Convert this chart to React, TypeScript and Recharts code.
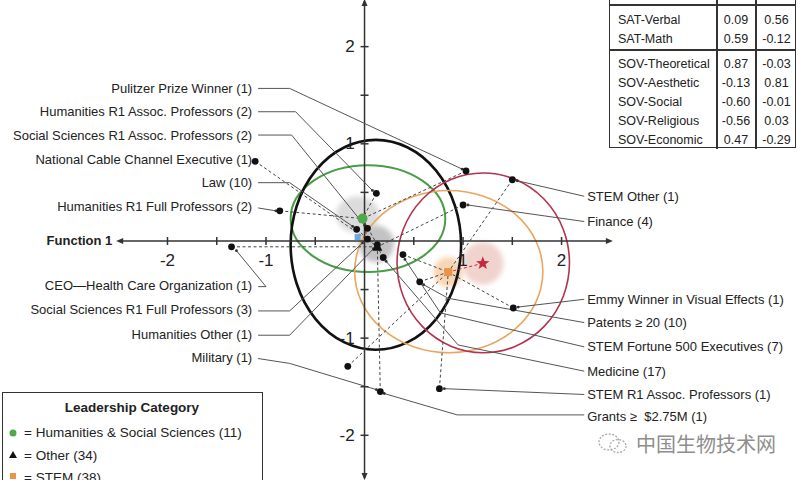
import React from "react";
import {
  ScatterChart,
  Scatter,
  XAxis,
  YAxis,
  ReferenceLine,
  ReferenceArea,
} from "recharts";

const FONT = "'Liberation Sans', Arial, Helvetica, sans-serif";

// visible window of the discriminant function space
const X_DOMAIN = [-3.7, 4.42];
const Y_DOMAIN = [-2.46, 2.48];

// leadership groups and their centroids
const groupNames = ["Humanities & Social Sciences", "Other", "STEM", "Star group", "Square group"];
const groupF1 = [-0.02, 0.13, 0.85, 1.2, -0.07];
const groupF2 = [0.23, -0.06, -0.32, -0.23, 0.04];

// confidence ellipses (function 1 / function 2 extents)
const ellipseGroups = ["Humanities & Social Sciences", "Other", "STEM", "Star group"];
const ellipseF1Min = [-0.75, -0.75, -0.1, 0.33];
const ellipseF1Max = [0.82, 0.98, 1.81, 2.08];
const ellipseF2Min = [-0.32, -1.12, -1.15, -1.15];
const ellipseF2Max = [0.78, 1.04, 0.52, 0.7];

// shaded spread around the centroids
const spreadF1Min = [-0.29, -0.06, 0.7, 0.99];
const spreadF1Max = [0.15, 0.3, 1.0, 1.41];
const spreadF2Min = [0.08, -0.22, -0.475, -0.45];
const spreadF2Max = [0.46, 0.16, -0.165, -0.01];

// careers (black dots)
const careers = [
  "Pulitzer Prize Winner (1)",
  "Humanities R1 Assoc. Professors (2)",
  "Social Sciences R1 Assoc. Professors (2)",
  "National Cable Channel Executive (1)",
  "Law (10)",
  "Humanities R1 Full Professors (2)",
  "CEO\u2014Health Care Organization (1)",
  "Social Sciences R1 Full Professors (3)",
  "Humanities Other (1)",
  "Military (1)",
  "STEM Other (1)",
  "Finance (4)",
  "Emmy Winner in Visual Effects (1)",
  "Patents \u2265 20 (10)",
  "STEM Fortune 500 Executives (7)",
  "Medicine (17)",
  "STEM R1 Assoc. Professors (1)",
  "Grants \u2265\u00a0 $2.75M (1)",
];
const careerF1 = [1.03, 0.12, 0.03, -1.11, -0.08, -0.86, -1.35, 0.03, 0.13, 0.16, 1.5, 1.0, 1.51, 0.56, 0.39, 0.19, 0.76, -0.17];
const careerF2 = [0.72, 0.49, 0.13, 0.82, 0.12, 0.31, -0.06, 0.02, -0.04, -1.55, 0.63, 0.37, -0.69, -0.42, -0.14, -0.17, -1.52, -1.29];
const careerGroup = [0, 0, 0, 1, 1, 0, 1, 0, 0, 1, 2, 1, 2, 2, 2, 1, 2, 2];

// label placement (first 10 on the left, the rest on the right)
const leftLabelX = -1.14;
const rightLabelX = 2.26;
const labelRows = [1.57, 1.33, 1.09, 0.84, 0.6, 0.35, -0.46, -0.71, -0.96, -1.2, 0.46, 0.2, -0.6, -0.84, -1.09, -1.34, -1.58, -1.81];

// leader lines from label to dot
const leaders: number[][][] = [
  [[-1.08, 1.57], [-0.76, 1.57], [0.99, 0.74]],
  [[-1.08, 1.33], [-0.7, 1.33], [0.08, 0.52]],
  [[-1.08, 1.09], [-0.74, 1.09], [0.0, 0.16]],
  [],
  [[-1.08, 0.6], [-0.76, 0.6], [-0.12, 0.15]],
  [[-1.08, 0.34], [-0.9, 0.31]],
  [[-1.08, -0.47], [-1.0, -0.47], [-1.3, -0.1]],
  [[-1.08, -0.72], [-0.76, -0.72], [-0.02, -0.02]],
  [[-1.08, -0.97], [-0.76, -0.97], [0.09, -0.08]],
  [[-1.08, -1.21], [-0.76, -1.26], [0.12, -1.53]],
  [[2.23, 0.46], [1.55, 0.62]],
  [[2.23, 0.2], [1.05, 0.37]],
  [[2.23, -0.6], [1.56, -0.68]],
  [[2.23, -0.84], [0.85, -0.59], [0.6, -0.45]],
  [[2.23, -1.09], [0.77, -0.74], [0.41, -0.19]],
  [[2.23, -1.34], [0.95, -1.07], [0.22, -0.21]],
  [[2.23, -1.58], [0.81, -1.52]],
  [[2.23, -1.79], [0.94, -1.79], [0.2, -1.57]],
];

// axes
const axisTicks = [-2, -1.5, -1, -0.5, 0.5, 1, 1.5, 2];
const xTickLabels = ["-2", "-1", "1", "2"];
const xTickValues = [-2, -1, 1, 2];
const yTickLabels = ["2", "1", "-1", "-2"];
const yTickValues = [2, 1, -1, -2];

// structure coefficients table
const tablePredictors = ["SAT-Verbal", "SAT-Math", "SOV-Theoretical", "SOV-Aesthetic", "SOV-Social", "SOV-Religious", "SOV-Economic"];
const tableF1 = ["0.09", "0.59", "0.87", "-0.13", "-0.60", "-0.56", "0.47"];
const tableF2 = ["0.56", "-0.12", "-0.03", "0.81", "-0.01", "0.03", "-0.29"];
const tableRowY = [20, 39, 64, 83, 102, 121, 140];

const legendItems = ["= Humanities & Social Sciences (11)", "= Other (34)", "= STEM (38)"];

const ellipseColors = ["#4a9d48", "#111111", "#eaa55e", "#b3334f"];
const ellipseWidths = [2, 2.6, 1.6, 1.6];
const spreadColors = ["#dcdcdc", "#c3c3c3", "#f7d6b4", "#f0d3cd"];

const ellipseShape = (stroke: string, w: number) => (p: any) => (
  <ellipse
    cx={p.x + p.width / 2}
    cy={p.y + p.height / 2}
    rx={Math.abs(p.width / 2)}
    ry={Math.abs(p.height / 2)}
    fill="none"
    stroke={stroke}
    strokeWidth={w}
  />
);

const spreadShape = (fill: string, id: string) => (p: any) => (
  <g>
    <defs>
      <filter id={id} x="-50%" y="-50%" width="200%" height="200%">
        <feGaussianBlur stdDeviation="2.5" />
      </filter>
    </defs>
    <ellipse
      cx={p.x + p.width / 2}
      cy={p.y + p.height / 2}
      rx={Math.abs(p.width / 2)}
      ry={Math.abs(p.height / 2)}
      fill={fill}
      filter={`url(#${id})`}
    />
  </g>
);

const starPath = (cx: number, cy: number, r: number) => {
  let d = "";
  for (let i = 0; i < 10; i++) {
    const rr = i % 2 === 0 ? r : r * 0.42;
    const a = -Math.PI / 2 + (i * Math.PI) / 5;
    d += (i === 0 ? "M" : "L") + (cx + rr * Math.cos(a)) + "," + (cy + rr * Math.sin(a));
  }
  return d + "Z";
};

const centroidShape = (p: any) => {
  const { cx, cy, payload } = p;
  switch (payload.group) {
    case 0:
      return <circle cx={cx} cy={cy} r={5} fill="#4fa84b" />;
    case 1:
      return <polygon points={`${cx},${cy - 6} ${cx - 5},${cy + 4} ${cx + 5},${cy + 4}`} fill="#111" />;
    case 2:
      return <rect x={cx - 4} y={cy - 4} width={8} height={8} fill="#e8944a" />;
    case 3:
      return <path d={starPath(cx, cy, 7)} fill="#c62b3d" />;
    default:
      return <rect x={cx - 3} y={cy - 3} width={6} height={6} fill="#6fa8dc" />;
  }
};

const dotShape = (p: any) => <circle cx={p.cx} cy={p.cy} r={3.4} fill="#111" />;
const tipShape = (p: any) => <circle cx={p.cx} cy={p.cy} r={1.4} fill="#333" />;
const xTickShape = (p: any) => <line x1={p.cx} x2={p.cx} y1={p.cy - 4} y2={p.cy + 4} stroke="#333" strokeWidth={1.5} />;
const yTickShape = (p: any) => <line x1={p.cx - 4} x2={p.cx + 4} y1={p.cy} y2={p.cy} stroke="#333" strokeWidth={1.5} />;

const textShape = (anchor: string, size: number, bold = false) => (p: any) => (
  <text
    x={p.cx}
    y={p.cy}
    textAnchor={anchor}
    dominantBaseline="central"
    fontSize={size}
    fontWeight={bold ? 700 : 400}
    fill="#222"
    fontFamily={FONT}
  >
    {p.payload.text}
  </text>
);

const arrowShape = (dir: string) => (p: any) => {
  const { cx, cy } = p;
  let pts = "";
  if (dir === "left") pts = `${cx - 4},${cy} ${cx + 3},${cy - 3} ${cx + 3},${cy + 3}`;
  if (dir === "right") pts = `${cx + 4},${cy} ${cx - 3},${cy - 3} ${cx - 3},${cy + 3}`;
  if (dir === "up") pts = `${cx},${cy - 4} ${cx - 3},${cy + 3} ${cx + 3},${cy + 3}`;
  if (dir === "down") pts = `${cx},${cy + 4} ${cx - 3},${cy - 3} ${cx + 3},${cy - 3}`;
  return <polygon points={pts} fill="#333" />;
};

export default function App() {
  const careerPoints = careers.map((name, i) => ({ x: careerF1[i], y: careerF2[i], name }));
  const centroids = groupNames.map((name, i) => ({ x: groupF1[i], y: groupF2[i], group: i, name }));
  const leftLabels = careers.slice(0, 10).map((text, i) => ({ x: leftLabelX, y: labelRows[i], text }));
  const rightLabels = careers.slice(10).map((text, i) => ({ x: rightLabelX, y: labelRows[i + 10], text }));
  const segments = leaders.flatMap((pl) => pl.slice(1).map((pt, i) => [pl[i], pt]));
  const tips = leaders.filter((pl) => pl.length > 0).map((pl) => ({ x: pl[pl.length - 1][0], y: pl[pl.length - 1][1] }));
  const dashed = careers.map((_, i) => [
    [careerF1[i], careerF2[i]],
    [groupF1[careerGroup[i]], groupF2[careerGroup[i]]],
  ]);

  return (
    <div style={{ position: "absolute", left: 0, top: 0, width: 800, height: 480, background: "#fff", overflow: "hidden", fontFamily: FONT }}>
      <ScatterChart width={800} height={480} margin={{ top: 0, right: 0, bottom: 0, left: 0 }}>
        <XAxis type="number" dataKey="x" domain={X_DOMAIN} allowDataOverflow hide />
        <YAxis type="number" dataKey="y" domain={Y_DOMAIN} allowDataOverflow hide />

        {spreadColors.map((c, i) => (
          <ReferenceArea
            key={"sp" + i}
            x1={spreadF1Min[i]}
            x2={spreadF1Max[i]}
            y1={spreadF2Min[i]}
            y2={spreadF2Max[i]}
            shape={spreadShape(c, "blur" + i)}
            ifOverflow="visible"
          />
        ))}

        {ellipseGroups.map((g, i) => (
          <ReferenceArea
            key={"el" + g}
            x1={ellipseF1Min[i]}
            x2={ellipseF1Max[i]}
            y1={ellipseF2Min[i]}
            y2={ellipseF2Max[i]}
            shape={ellipseShape(ellipseColors[i], ellipseWidths[i])}
            ifOverflow="visible"
          />
        ))}

        <ReferenceLine segment={[{ x: -2.48, y: 0 }, { x: 2.48, y: 0 }]} stroke="#333" strokeWidth={1.5} ifOverflow="visible" />
        <ReferenceLine segment={[{ x: 0, y: -2.44 }, { x: 0, y: 2.47 }]} stroke="#333" strokeWidth={1.5} ifOverflow="visible" />

        {dashed.map((s, i) => (
          <ReferenceLine
            key={"ds" + i}
            segment={[{ x: s[0][0], y: s[0][1] }, { x: s[1][0], y: s[1][1] }]}
            stroke="#444"
            strokeWidth={1}
            strokeDasharray="3 2.5"
            ifOverflow="visible"
          />
        ))}
        <ReferenceLine
          segment={[{ x: groupF1[3], y: groupF2[3] }, { x: groupF1[2], y: groupF2[2] }]}
          stroke="#c62b3d"
          strokeWidth={1}
          strokeDasharray="3 2.5"
          ifOverflow="visible"
        />

        {segments.map((s, i) => (
          <ReferenceLine
            key={"ld" + i}
            segment={[{ x: s[0][0], y: s[0][1] }, { x: s[1][0], y: s[1][1] }]}
            stroke="#555"
            strokeWidth={1}
            ifOverflow="visible"
          />
        ))}

        <Scatter data={axisTicks.map((v) => ({ x: v, y: 0 }))} shape={xTickShape} isAnimationActive={false} />
        <Scatter data={axisTicks.map((v) => ({ x: 0, y: v }))} shape={yTickShape} isAnimationActive={false} />
        <Scatter data={[{ x: -2.48, y: 0 }]} shape={arrowShape("left")} isAnimationActive={false} />
        <Scatter data={[{ x: 2.48, y: 0 }]} shape={arrowShape("right")} isAnimationActive={false} />
        <Scatter data={[{ x: 0, y: 2.45 }]} shape={arrowShape("up")} isAnimationActive={false} />
        <Scatter data={[{ x: 0, y: -2.42 }]} shape={arrowShape("down")} isAnimationActive={false} />

        <Scatter data={xTickValues.map((v, i) => ({ x: v, y: -0.2, text: xTickLabels[i] }))} shape={textShape("middle", 17)} isAnimationActive={false} />
        <Scatter data={yTickValues.map((v, i) => ({ x: -0.1, y: v, text: yTickLabels[i] }))} shape={textShape("end", 17)} isAnimationActive={false} />
        <Scatter data={[{ x: -2.56, y: 0, text: "Function 1" }]} shape={textShape("end", 13, true)} isAnimationActive={false} />

        <Scatter data={tips} shape={tipShape} isAnimationActive={false} />
        <Scatter data={careerPoints} shape={dotShape} isAnimationActive={false} />
        <Scatter data={centroids} shape={centroidShape} isAnimationActive={false} />

        <Scatter data={leftLabels} shape={textShape("end", 13)} isAnimationActive={false} />
        <Scatter data={rightLabels} shape={textShape("start", 13)} isAnimationActive={false} />
      </ScatterChart>

      {/* coefficients table */}
      <div style={{ position: "absolute", left: 609, top: -20, width: 187, height: 168, border: "1.5px solid #333", boxSizing: "border-box" }} />
      <div style={{ position: "absolute", left: 716, top: 0, width: 1.5, height: 149, background: "#333" }} />
      <div style={{ position: "absolute", left: 755, top: 0, width: 1.5, height: 149, background: "#333" }} />
      <div style={{ position: "absolute", left: 609, top: 4, width: 187, height: 1.5, background: "#333" }} />
      <div style={{ position: "absolute", left: 609, top: 49, width: 187, height: 1.5, background: "#333" }} />
      {tablePredictors.map((p, i) => (
        <React.Fragment key={p}>
          <div style={{ position: "absolute", left: 618, top: tableRowY[i] - 8, fontSize: 12.5, lineHeight: "16px", color: "#222" }}>{p}</div>
          <div style={{ position: "absolute", left: 716, width: 40, top: tableRowY[i] - 8, fontSize: 12.5, lineHeight: "16px", color: "#222", textAlign: "center" }}>{tableF1[i]}</div>
          <div style={{ position: "absolute", left: 756, width: 41, top: tableRowY[i] - 8, fontSize: 12.5, lineHeight: "16px", color: "#222", textAlign: "center" }}>{tableF2[i]}</div>
        </React.Fragment>
      ))}

      {/* legend */}
      <div style={{ position: "absolute", left: 2, top: 392, width: 261, height: 100, border: "1.5px solid #333", boxSizing: "border-box", background: "#fff" }}>
        <div style={{ position: "absolute", left: 0, width: 258, top: 7, textAlign: "center", fontWeight: 700, fontSize: 13.5, color: "#222" }}>Leadership Category</div>
        {legendItems.map((t, i) => (
          <div key={t} style={{ position: "absolute", left: 21, top: 32 + i * 22.5, fontSize: 13.5, lineHeight: "16px", color: "#222", whiteSpace: "nowrap" }}>{t}</div>
        ))}
        <svg style={{ position: "absolute", left: 0, top: 0 }} width={20} height={100}>
          <circle cx={10} cy={40} r={3.5} fill="#4fa84b" />
          <polygon points="10,58 6,65 14,65" fill="#111" />
          <rect x={7} y={80} width={6} height={6} fill="#e8944a" />
        </svg>
      </div>

      {/* watermark */}
      <svg style={{ position: "absolute", left: 596, top: 430 }} width={36} height={28}>
        <ellipse cx={13} cy={12} rx={10} ry={8} fill="none" stroke="#aaa" strokeWidth={1.3} strokeDasharray="2 1.5" />
        <ellipse cx={22} cy={16} rx={8} ry={6.5} fill="none" stroke="#aaa" strokeWidth={1.3} strokeDasharray="2 1.5" />
      </svg>
      <div style={{ position: "absolute", left: 636, top: 430, fontSize: 20, lineHeight: "28px", color: "#8e8e8e", fontFamily: "'Noto Sans CJK SC', sans-serif", letterSpacing: 0 }}>中国生物技术网</div>
    </div>
  );
}
